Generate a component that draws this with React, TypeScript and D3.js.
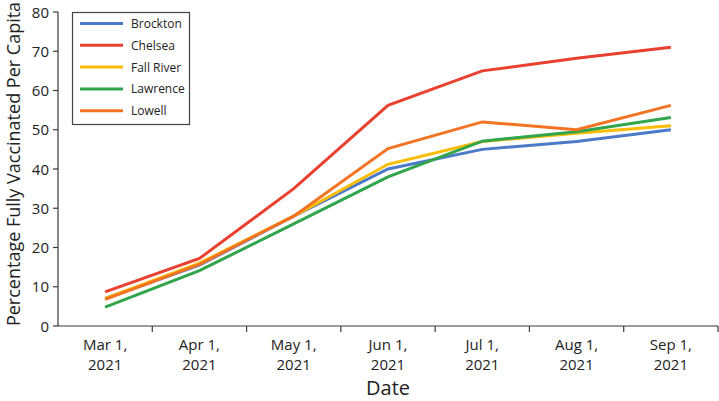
import { useRef, useEffect } from 'react'
import * as d3 from 'd3'

const MONTHS = ['Mar 1,', 'Apr 1,', 'May 1,', 'Jun 1,', 'Jul 1,', 'Aug 1,', 'Sep 1,']
const YEAR = '2021'

const CITIES = ['Brockton', 'Chelsea', 'Fall River', 'Lawrence', 'Lowell']
const brockton = [7, 15.5, 28, 40, 45, 47, 50]
const chelsea = [8.7, 17.2, 35, 56.2, 65, 68.2, 71]
const fallRiver = [7, 16, 28, 41.2, 47, 49.1, 51]
const lawrence = [4.8, 14.1, 26, 38, 47.1, 49.5, 53.1]
const lowell = [6.8, 15.7, 28, 45.2, 52, 50, 56.2]
const Y_TICKS = [0, 10, 20, 30, 40, 50, 60, 70, 80]

const COLORS = ['#4a7ac8', '#e9402f', '#fbbc04', '#31a54b', '#f47323']
const FONT = '"Open Sans", "Noto Sans", sans-serif'

export default function App() {
  const svgRef = useRef<SVGSVGElement>(null)

  useEffect(() => {
    if (!svgRef.current) return
    const svg = d3.select(svgRef.current)
    svg.selectAll('*').remove()

    const width = 719
    const height = 401
    const left = 58, right = 718, top = 12, bottom = 326
    const axisColor = '#3a3a3a'

    const x = d3.scaleBand<string>().domain(MONTHS).range([left, right]).padding(0)
    const y = d3.scaleLinear().domain([0, 80]).range([bottom, top])

    const series = [brockton, chelsea, fallRiver, lawrence, lowell]

    // y axis
    svg.append('line')
      .attr('x1', left).attr('x2', left).attr('y1', top).attr('y2', bottom)
      .attr('stroke', axisColor).attr('stroke-width', 1.2)
    Y_TICKS.forEach(t => {
      svg.append('line')
        .attr('x1', left - 5).attr('x2', left).attr('y1', y(t)).attr('y2', y(t))
        .attr('stroke', axisColor).attr('stroke-width', 1.2)
      svg.append('text')
        .attr('x', left - 9).attr('y', y(t) + 5.5)
        .attr('text-anchor', 'end')
        .style('font-size', '15px').style('fill', '#222').style('font-family', FONT)
        .text(t)
    })

    // x axis
    svg.append('line')
      .attr('x1', left).attr('x2', right).attr('y1', bottom).attr('y2', bottom)
      .attr('stroke', axisColor).attr('stroke-width', 1.2)
    MONTHS.forEach(m => {
      const bx = x(m)! + x.bandwidth()
      svg.append('line')
        .attr('x1', bx).attr('x2', bx).attr('y1', bottom).attr('y2', bottom + 6)
        .attr('stroke', axisColor).attr('stroke-width', 1.2)
      const cx = x(m)! + x.bandwidth() / 2
      const t = svg.append('text')
        .attr('x', cx).attr('y', bottom + 24)
        .attr('text-anchor', 'middle')
        .style('font-size', '15px').style('fill', '#222').style('font-family', FONT)
      t.append('tspan').attr('x', cx).text(m)
      t.append('tspan').attr('x', cx).attr('dy', 20).text(YEAR)
    })

    // axis titles
    svg.append('text')
      .attr('transform', `translate(20,164) rotate(-90)`)
      .attr('text-anchor', 'middle')
      .style('font-size', '18px').style('fill', '#222').style('font-family', FONT)
      .text('Percentage Fully Vaccinated Per Capita')
    svg.append('text')
      .attr('x', (left + right) / 2).attr('y', 395)
      .attr('text-anchor', 'middle')
      .style('font-size', '20px').style('fill', '#222').style('font-family', FONT)
      .text('Date')

    // lines
    const line = d3.line<number>()
      .x((_, i) => x(MONTHS[i])! + x.bandwidth() / 2)
      .y(d => y(d))
    series.forEach((vals, i) => {
      svg.append('path')
        .datum(vals)
        .attr('d', line)
        .attr('fill', 'none')
        .attr('stroke', COLORS[i])
        .attr('stroke-width', 3)
        .attr('stroke-linejoin', 'miter')
    })

    // legend
    svg.append('rect')
      .attr('x', 72.5).attr('y', 12.5).attr('width', 117).attr('height', 112)
      .attr('fill', 'white').attr('stroke', '#444').attr('stroke-width', 1.2)
    CITIES.forEach((c, i) => {
      const ly = 23.5 + i * 21.8
      svg.append('line')
        .attr('x1', 80).attr('x2', 123).attr('y1', ly).attr('y2', ly)
        .attr('stroke', COLORS[i]).attr('stroke-width', 3)
      svg.append('text')
        .attr('x', 131).attr('y', ly + 4.5)
        .style('font-size', '12px').style('fill', '#222').style('font-family', FONT)
        .text(c)
    })

    svg.attr('width', width).attr('height', height)
  }, [])

  return (
    <div>
      <style>{'body{margin:0}'}</style>
      <svg ref={svgRef} style={{ display: 'block' }} />
    </div>
  )
}
